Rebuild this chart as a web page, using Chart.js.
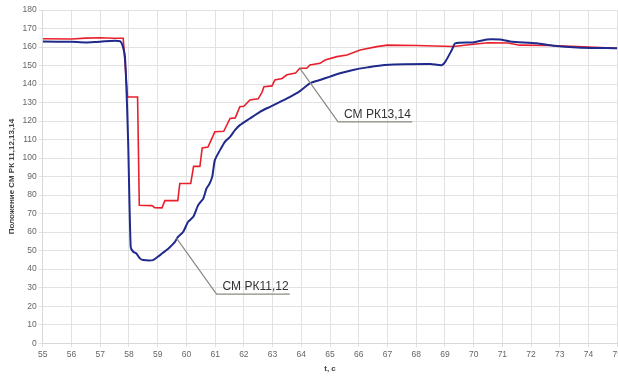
<!DOCTYPE html>
<html>
<head>
<meta charset="utf-8">
<script src="https://cdn.jsdelivr.net/npm/chart.js@4/dist/chart.umd.min.js"></script>
<style>
html,body{margin:0;padding:0;background:#fff;overflow:hidden;width:618px;height:377px;}
#wrap{position:relative;width:624px;height:377px;}
</style>
</head>
<body>
<div id="wrap"><canvas id="c"></canvas></div>
<script>
// ---- Data ----
const xTicks = [55,56,57,58,59,60,61,62,63,64,65,66,67,68,69,70,71,72,73,74,75];
const yTicks = [0,10,20,30,40,50,60,70,80,90,100,110,120,130,140,150,160,170,180];

const seriesRedName = "СМ РК13,14";
const tRed = [55.0,56.0,56.5,57.0,57.5,57.8,57.95,58.3,58.36,58.8,58.9,59.15,59.25,59.7,59.77,60.15,60.25,60.47,60.55,60.75,60.99,61.3,61.52,61.7,61.86,62.0,62.21,62.5,62.63,62.7,62.98,63.08,63.33,63.5,63.8,63.95,64.19,64.3,64.65,64.83,65.24,65.59,66.05,66.63,67.0,68.0,69.3,70.0,70.5,71.2,71.6,72.7,73.6,75.0];
const vRed = [164.5,164.3,164.8,165.0,164.7,164.7,133,133,74.5,74.3,73.2,73.1,77,77,86.3,86.3,95.5,95.5,105.5,106,114.2,114.5,121.4,121.7,127.7,128,131.4,132,135.5,138.6,139,142.2,143,145,146,148.5,148.5,150.3,151.2,153,154.8,155.7,158.4,160.2,161,160.8,160.3,161.5,162.3,162.2,161,160.8,160.2,159.3];

const seriesBlueName = "СМ РК11,12";
const tBlue = [55.0,56.0,56.5,57.0,57.7,57.86,57.97,58.06,58.15,58.26,58.38,58.49,58.84,59.08,59.31,59.43,59.6,59.71,59.89,60.06,60.24,60.41,60.59,60.7,60.8,60.9,60.99,61.17,61.34,61.52,61.69,61.86,62.21,62.56,62.91,63.26,63.61,63.95,64.3,64.65,65.0,65.35,65.8,66.3,66.9,68.5,68.89,69.01,69.24,69.36,69.98,70.46,70.92,71.27,72.2,72.77,73.61,75.0];
const vBlue = [163,162.8,162.5,162.9,163,154.8,109.7,52,49.4,48.5,45.8,44.9,44.9,47.6,50.3,52,54.8,57.5,60.2,65.6,68.3,74.6,78.2,83.6,86,90,98.9,104.3,108.8,111.5,115.1,117.8,121.4,125,127.7,130.4,133.1,136.2,140.4,142.2,144,145.8,147.6,149,150.3,150.8,150.2,152,158.4,162,162.5,164.1,164,163,162,160.7,159.8,159.3];

// annotation callouts: [text, anchorT, anchorV, elbowT, elbowV, endT]
const callouts = [
  [seriesRedName, 63.95, 148.5, 65.28, 119.6, 67.86],
  [seriesBlueName, 59.66, 56.6, 61.05, 26.5, 63.6]
];

const toPts = (ts, vs) => ts.map((t,i)=>({x:t, y:vs[i]}));

const calloutPlugin = {
  id: 'callouts',
  afterDatasetsDraw(chart) {
    const ctx = chart.ctx, xs = chart.scales.x, ys = chart.scales.y;
    ctx.save();
    callouts.forEach(c => {
      const ax = xs.getPixelForValue(c[1]), ay = ys.getPixelForValue(c[2]);
      const ex = xs.getPixelForValue(c[3]), ey = ys.getPixelForValue(c[4]);
      const rx = xs.getPixelForValue(c[5]);
      ctx.strokeStyle = '#8a8a82';
      ctx.lineWidth = 1.2;
      ctx.beginPath();
      ctx.moveTo(ax, ay); ctx.lineTo(ex, ey); ctx.lineTo(rx, ey);
      ctx.stroke();
      ctx.fillStyle = '#333';
      ctx.font = '12px "Liberation Sans", Arial, sans-serif';
      ctx.textBaseline = 'alphabetic';
      ctx.textAlign = 'left';
      ctx.fillText(c[0], ex + 6, ey - 4);
    });
    ctx.restore();
  }
};

new Chart(document.getElementById('c'), {
  type: 'line',
  data: {
    datasets: [
      { label: seriesBlueName, data: toPts(tBlue, vBlue), borderColor: '#1f2a8c', borderWidth: 2, pointRadius: 0, tension: 0.2, fill: false },
      { label: seriesRedName, data: toPts(tRed, vRed), borderColor: '#e8202c', borderWidth: 1.6, pointRadius: 0, tension: 0, fill: false }
    ]
  },
  options: {
    responsive: true,
    maintainAspectRatio: false,
    animation: false,
    layout: { padding: { top: 10, right: 0, left: 7, bottom: 3 } },
    plugins: { legend: { display: false }, tooltip: { enabled: false } },
    scales: {
      x: {
        type: 'linear', min: 55, max: 75,
        afterBuildTicks: s => { s.ticks = xTicks.map(v => ({value: v})); },
        ticks: { font: { size: 8.5, family: '"Liberation Sans", Arial, sans-serif' }, color: '#666', maxRotation: 0, autoSkip: false, padding: 2 },
        grid: { color: '#e2e2e2', tickLength: 4 },
        border: { color: '#d8d8d8' },
        title: { display: true, text: 't, c', font: { size: 8, weight: 'bold', family: '"Liberation Sans", Arial, sans-serif' }, color: '#444', padding: { top: 3, bottom: 0 } }
      },
      y: {
        min: 0, max: 180,
        afterBuildTicks: s => { s.ticks = yTicks.map(v => ({value: v})); },
        ticks: { font: { size: 8.5, family: '"Liberation Sans", Arial, sans-serif' }, color: '#666', padding: 2 },
        grid: { color: '#e2e2e2', tickLength: 4 },
        border: { color: '#d8d8d8' },
        title: { display: true, text: 'Положение СМ РК 11,12,13,14', font: { size: 8, weight: 'bold', family: '"Liberation Sans", Arial, sans-serif' }, color: '#444', padding: { top: 0, bottom: 4 } }
      }
    }
  },
  plugins: [calloutPlugin]
});
</script>
</body>
</html>
